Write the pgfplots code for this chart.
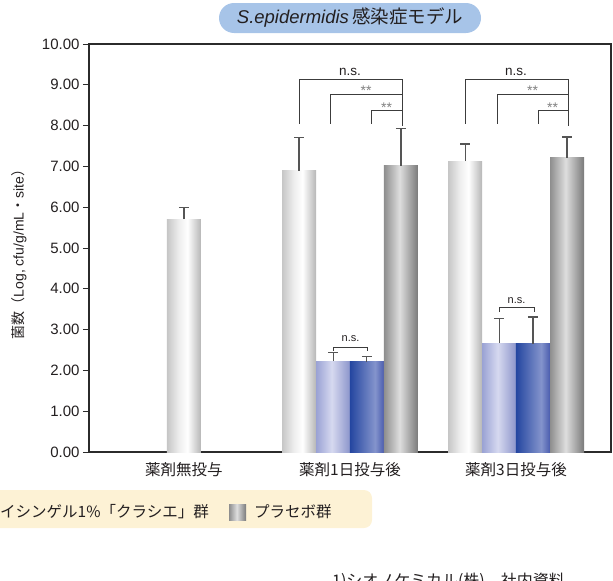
\documentclass[border=0pt]{standalone}
\usepackage{pgfplots}
\pgfplotsset{compat=1.18}
\usepackage{fontspec}
\setmainfont{Liberation Sans}
\newfontfamily\jp{Noto Sans CJK JP}
\newcommand\fs[1]{\fontsize{#1bp}{#1bp}\selectfont}
\definecolor{txt}{HTML}{231F20}
\definecolor{axc}{HTML}{2B2B2B}
\definecolor{brc}{HTML}{3C3C3C}
\definecolor{errc}{HTML}{555555}
\definecolor{titlebg}{HTML}{A7C4E8}
\definecolor{legbg}{HTML}{FDF2D5}
\definecolor{w0}{HTML}{C6C6C6}
\definecolor{w1}{HTML}{EDEDED}
\definecolor{w2}{HTML}{B6B6B6}
\definecolor{g0}{HTML}{8E8E8E}
\definecolor{g1}{HTML}{DEDEDE}
\definecolor{g2}{HTML}{7A7A7A}
\definecolor{l0}{HTML}{9AA2D4}
\definecolor{l1}{HTML}{D6D9F0}
\definecolor{l2}{HTML}{8C95CB}
\definecolor{d0}{HTML}{2446A0}
\definecolor{d1}{HTML}{8494CC}
\definecolor{d2}{HTML}{4A5CAE}
\pgfdeclarehorizontalshading{whitebar}{100bp}{color(0bp)=(w0); color(25bp)=(w0); color(42bp)=(w1); color(55bp)=(white); color(75bp)=(w2); color(100bp)=(w2)}
\pgfdeclarehorizontalshading{graybar}{100bp}{color(0bp)=(g0); color(25bp)=(g0); color(48bp)=(g1); color(75bp)=(g2); color(100bp)=(g2)}
\pgfdeclarehorizontalshading{lbbar}{100bp}{color(0bp)=(l0); color(25bp)=(l0); color(48bp)=(l1); color(75bp)=(l2); color(100bp)=(l2)}
\pgfdeclarehorizontalshading{dbbar}{100bp}{color(0bp)=(d0); color(25bp)=(d0); color(62bp)=(d1); color(75bp)=(d2); color(100bp)=(d2)}
\newcommand\onebar[3]{\addplot[ybar, bar width=0.2048, bar shift=0pt, draw=none, shading=#1, forget plot] coordinates {(#2,#3)};}
\begin{document}
\begin{tikzpicture}
\begin{axis}[
  at={(89bp,-452bp)}, anchor=south west,
  scale only axis, width=522bp, height=408bp,
  xmin=-0.572, xmax=2.572, ymin=0, ymax=10,
  axis line style={draw=axc, line width=1.1bp},
  xtick={0,1,2},
  xticklabels={{\jp 薬剤無投与},{\jp 薬剤1日投与後},{\jp 薬剤3日投与後}},
  x tick style={draw=none},
  x tick label style={font=\fs{15.5}, text=txt, yshift=-1bp},
  ytick={0,1,...,10},
  ytick pos=left, tick align=outside,
  major tick length=6bp,
  y tick style={draw=axc, line width=1bp},
  y tick label style={font=\fs{15}, text=txt},
  yticklabel style={/pgf/number format/.cd, fixed, fixed zerofill, precision=2, assume math mode=true},
  ylabel={{\jp 菌数（}Log, cfu/g/mL{\jp ・}site{\jp ）}},
  ylabel style={at={(axis description cs:-0.134,0.493)}, anchor=center, rotate=0, font=\fs{14}, text=txt},
  clip=false,
]
% white bars
\onebar{whitebar}{0}{5.71}
\onebar{whitebar}{0.693}{6.89}
\onebar{whitebar}{1.693}{7.13}
% light blue bars
\onebar{lbbar}{0.898}{2.23}
\onebar{lbbar}{1.898}{2.67}
% dark blue bars
\onebar{dbbar}{1.102}{2.21}
\onebar{dbbar}{2.102}{2.65}
% gray bars
\onebar{graybar}{1.307}{7.01}
\onebar{graybar}{2.307}{7.21}
% error bars (upper only)
\addplot[draw=none, mark=none, forget plot,
  error bars/.cd, y dir=plus, y explicit, error mark=|,
  error mark options={mark size=5bp, line width=1.1bp, draw=errc},
  error bar style={line width=1.1bp, draw=errc}]
  coordinates {(0,5.71) +- (0,0.28) (0.693,6.89) +- (0,0.81) (1.693,7.13) +- (0,0.42)
               (0.898,2.23) +- (0,0.20) (1.898,2.67) +- (0,0.61)
               (1.102,2.21) +- (0,0.12) (2.102,2.65) +- (0,0.66)
               (1.307,7.01) +- (0,0.91) (2.307,7.21) +- (0,0.51)};
% brackets group 2
\draw[brc, line width=0.9bp] (0.693,8.04) -- (0.693,9.12) -- (1.313,9.12) -- (1.313,7.99);
\draw[brc, line width=0.9bp] (0.880,8.04) -- (0.880,8.77) -- (1.313,8.77);
\draw[brc, line width=0.9bp] (1.127,8.04) -- (1.127,8.36) -- (1.313,8.36);
\node[font=\fs{13.5}, text=txt] at (1.0,9.31) {n.s.};
\node[font=\fs{14}, text=gray] at (1.097,8.86) {**};
\node[font=\fs{14}, text=gray] at (1.22,8.45) {**};
% brackets group 3
\draw[brc, line width=0.9bp] (1.693,8.04) -- (1.693,9.12) -- (2.313,9.12) -- (2.313,7.99);
\draw[brc, line width=0.9bp] (1.886,8.04) -- (1.886,8.77) -- (2.313,8.77);
\draw[brc, line width=0.9bp] (2.133,8.04) -- (2.133,8.36) -- (2.313,8.36);
\node[font=\fs{13.5}, text=txt] at (2.0,9.31) {n.s.};
\node[font=\fs{14}, text=gray] at (2.10,8.86) {**};
\node[font=\fs{14}, text=gray] at (2.22,8.45) {**};
% lower brackets
\draw[brc, line width=0.9bp] (0.898,2.48) -- (0.898,2.57) -- (1.108,2.57) -- (1.108,2.48);
\node[font=\fs{11}, text=txt] at (1.003,2.78) {n.s.};
\draw[brc, line width=0.9bp] (1.898,3.43) -- (1.898,3.55) -- (2.108,3.55) -- (2.108,3.43);
\node[font=\fs{11}, text=txt] at (2.003,3.72) {n.s.};
\end{axis}
% title
\node[fill=titlebg, rounded corners=15bp, minimum width=262bp, minimum height=30bp, inner sep=0pt, text=txt] at (350bp,-18bp) {\fs{18.5}\textit{S.epidermidis}\,{\jp 感染症モデル}};
% legend
\fill[legbg, rounded corners=8bp] (-20bp,-490bp) rectangle (372bp,-528bp);
\node[anchor=west, inner sep=0pt, text=txt] at (0bp,-512bp) {\fs{15.5}\jp イシンゲル1\%「クラシエ」群};
\shade[shading=graybar] (229bp,-504bp) rectangle (246bp,-520bp);
\node[anchor=west, inner sep=0pt, text=txt] at (254bp,-512bp) {\fs{15.5}\jp プラセボ群};
% source
\node[anchor=base west, inner sep=0pt, text=txt] at (332bp,-586bp) {\fs{16}\jp 1)シオノケミカル(株)　社内資料};
\pgfresetboundingbox
\useasboundingbox (0bp,0bp) rectangle (613bp,-581bp);
\end{tikzpicture}
\end{document}
